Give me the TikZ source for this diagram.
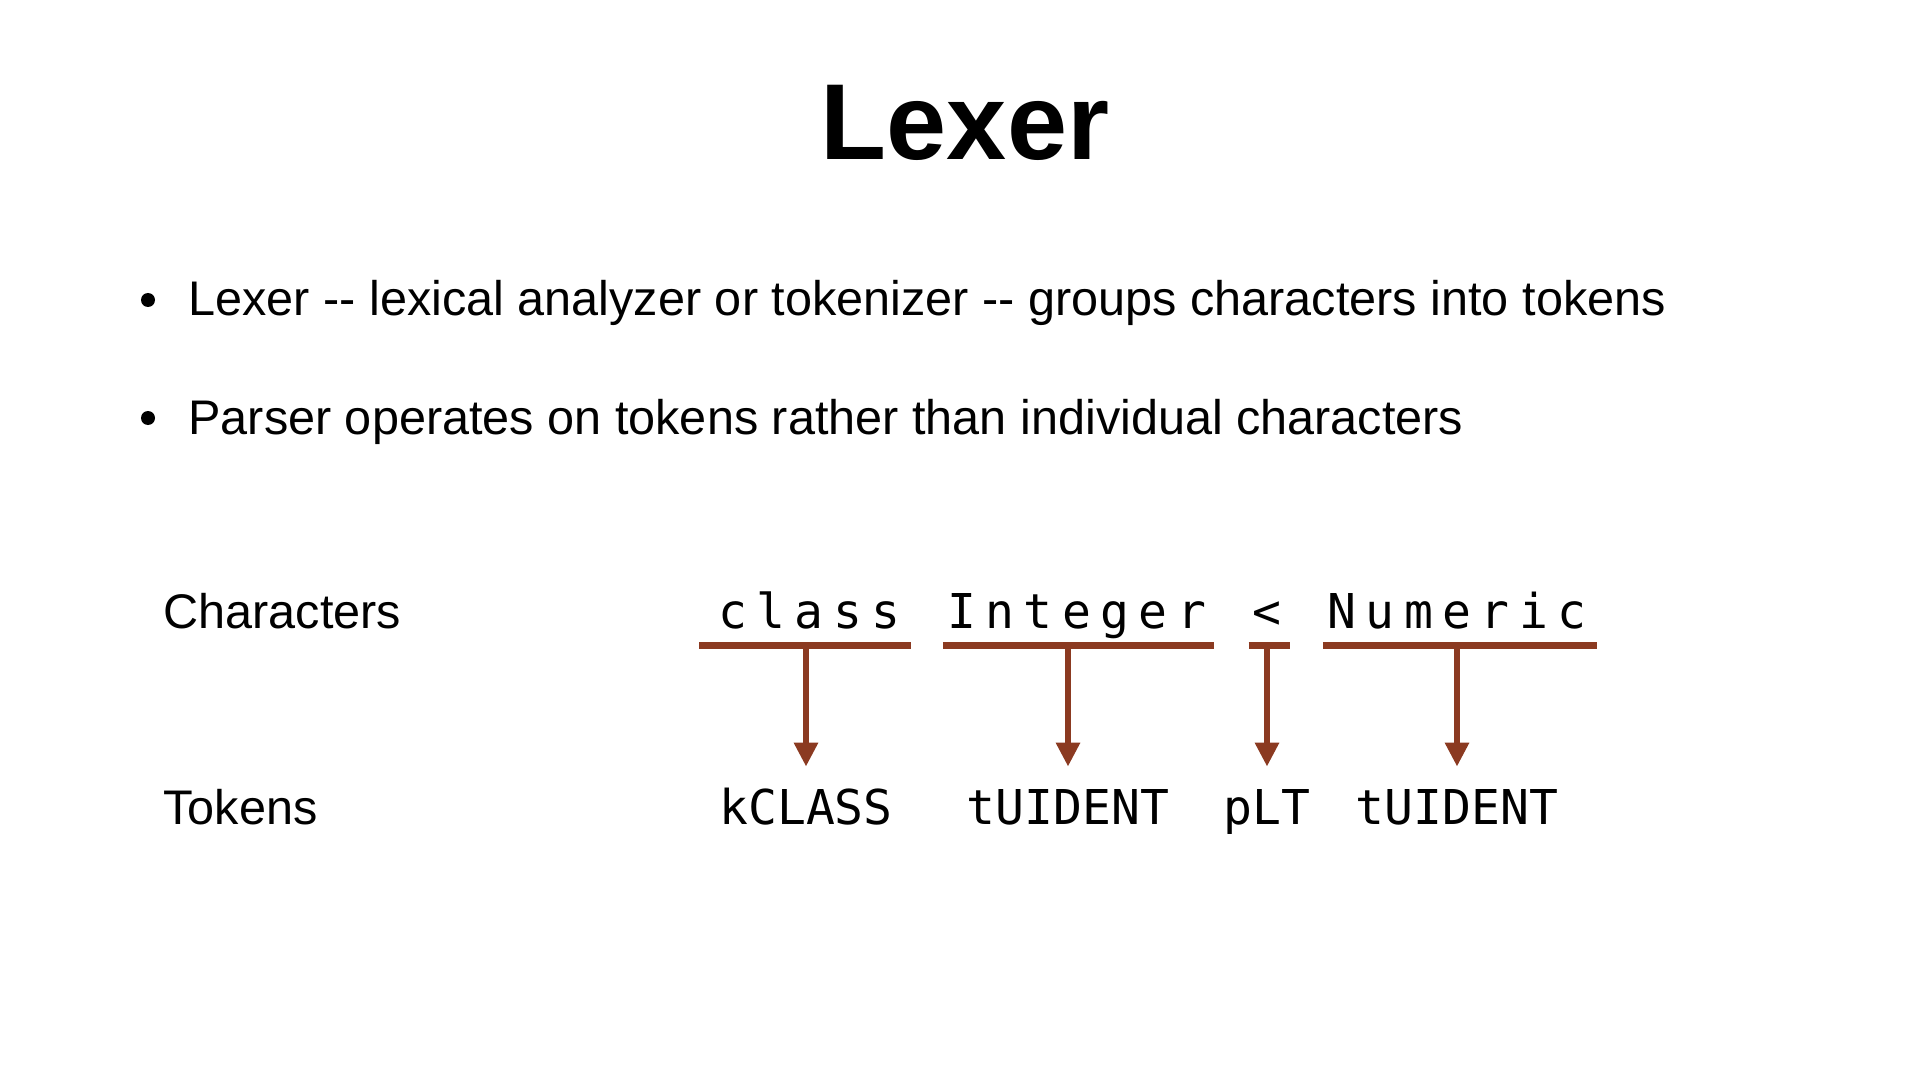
\documentclass[tikz,border=0pt]{standalone}
\usepackage{fontspec}
\setmainfont{Liberation Sans}
\setmonofont{DejaVu Sans Mono}
\usetikzlibrary{positioning, arrows.meta}
\definecolor{brun}{HTML}{8B3A21}
\newcommand{\dd}{-\kern0pt-}

\begin{document}
\begin{tikzpicture}[x=0.5pt, y=-0.5pt,
        txt/.style={inner sep=0pt, font=\fontsize{24.3}{29}\selectfont},
        chr/.style={inner sep=0pt, font=\ttfamily\fontsize{24}{29}\selectfont\addfontfeature{LetterSpace=19.6}},
        tok/.style={inner sep=0pt, text height=17.5pt, font=\ttfamily\fontsize{24}{29}\selectfont},
        puce/.style={circle, fill, inner sep=0pt, minimum size=7pt},
        bar/.style={brun, line width=3.5pt},
        fl/.style={-{Triangle[length=12pt, width=11.5pt]}, brun, line width=3pt, shorten >=11pt}]
    \useasboundingbox (0,0) rectangle (1920,1080);
    \node[font=\fontsize{54}{60}\selectfont\bfseries, anchor=base] (titre) at (965,160) {Lexer};
    % bullets
    \node[puce] (p1) at (148,300) {};
    \node[txt, anchor=base west] (l1) at (188,316) {Lexer \dd{} lexical analyzer or tokenizer \dd{} groups characters into tokens};
    \node[puce] (p2) at (148,418) {};
    \node[txt, anchor=base west] (l2) at (188,434) {Parser operates on tokens rather than individual characters};
    % characters
    \node[txt, anchor=base west] (lchars) at (163,628) {Characters};
    \node[chr, anchor=base west] (wclass) at (718,628) {class};
    \node[chr, base right=22.95pt of wclass] (winteger) {Integer};
    \node[chr, base right=22.95pt of winteger] (wlt) {<};
    \node[chr, base right=22.6pt of wlt] (wnumeric) {Numeric};
    % tokens
    \node[txt, anchor=base west] (ltoks) at (163,824) {Tokens};
    \node[tok, anchor=base] (kclass) at (806,824) {kCLASS};
    \node[tok, anchor=base] (tuident) at (1068,824) {tUIDENT};
    \node[tok, anchor=base] (plt) at (1267,824) {pLT};
    \node[tok, anchor=base] (tuidentb) at (1457,824) {tUIDENT};
    \foreach \w/\l/\r in {wclass/-9.5pt/5pt, winteger/-2pt/4pt, wlt/-1.8pt/4.2pt, wnumeric/-2.2pt/5pt}
        \draw[bar] ([xshift=\l, yshift=-8.5pt]\w.base west) -- ([xshift=\r, yshift=-8.5pt]\w.base east);
    \foreach \w/\t in {wclass/kclass, winteger/tuident, wlt/plt, wnumeric/tuidentb}
        \draw[fl] ([yshift=-8.5pt]\t.north |- \w.base) -- (\t.north);
\end{tikzpicture}
\end{document}
